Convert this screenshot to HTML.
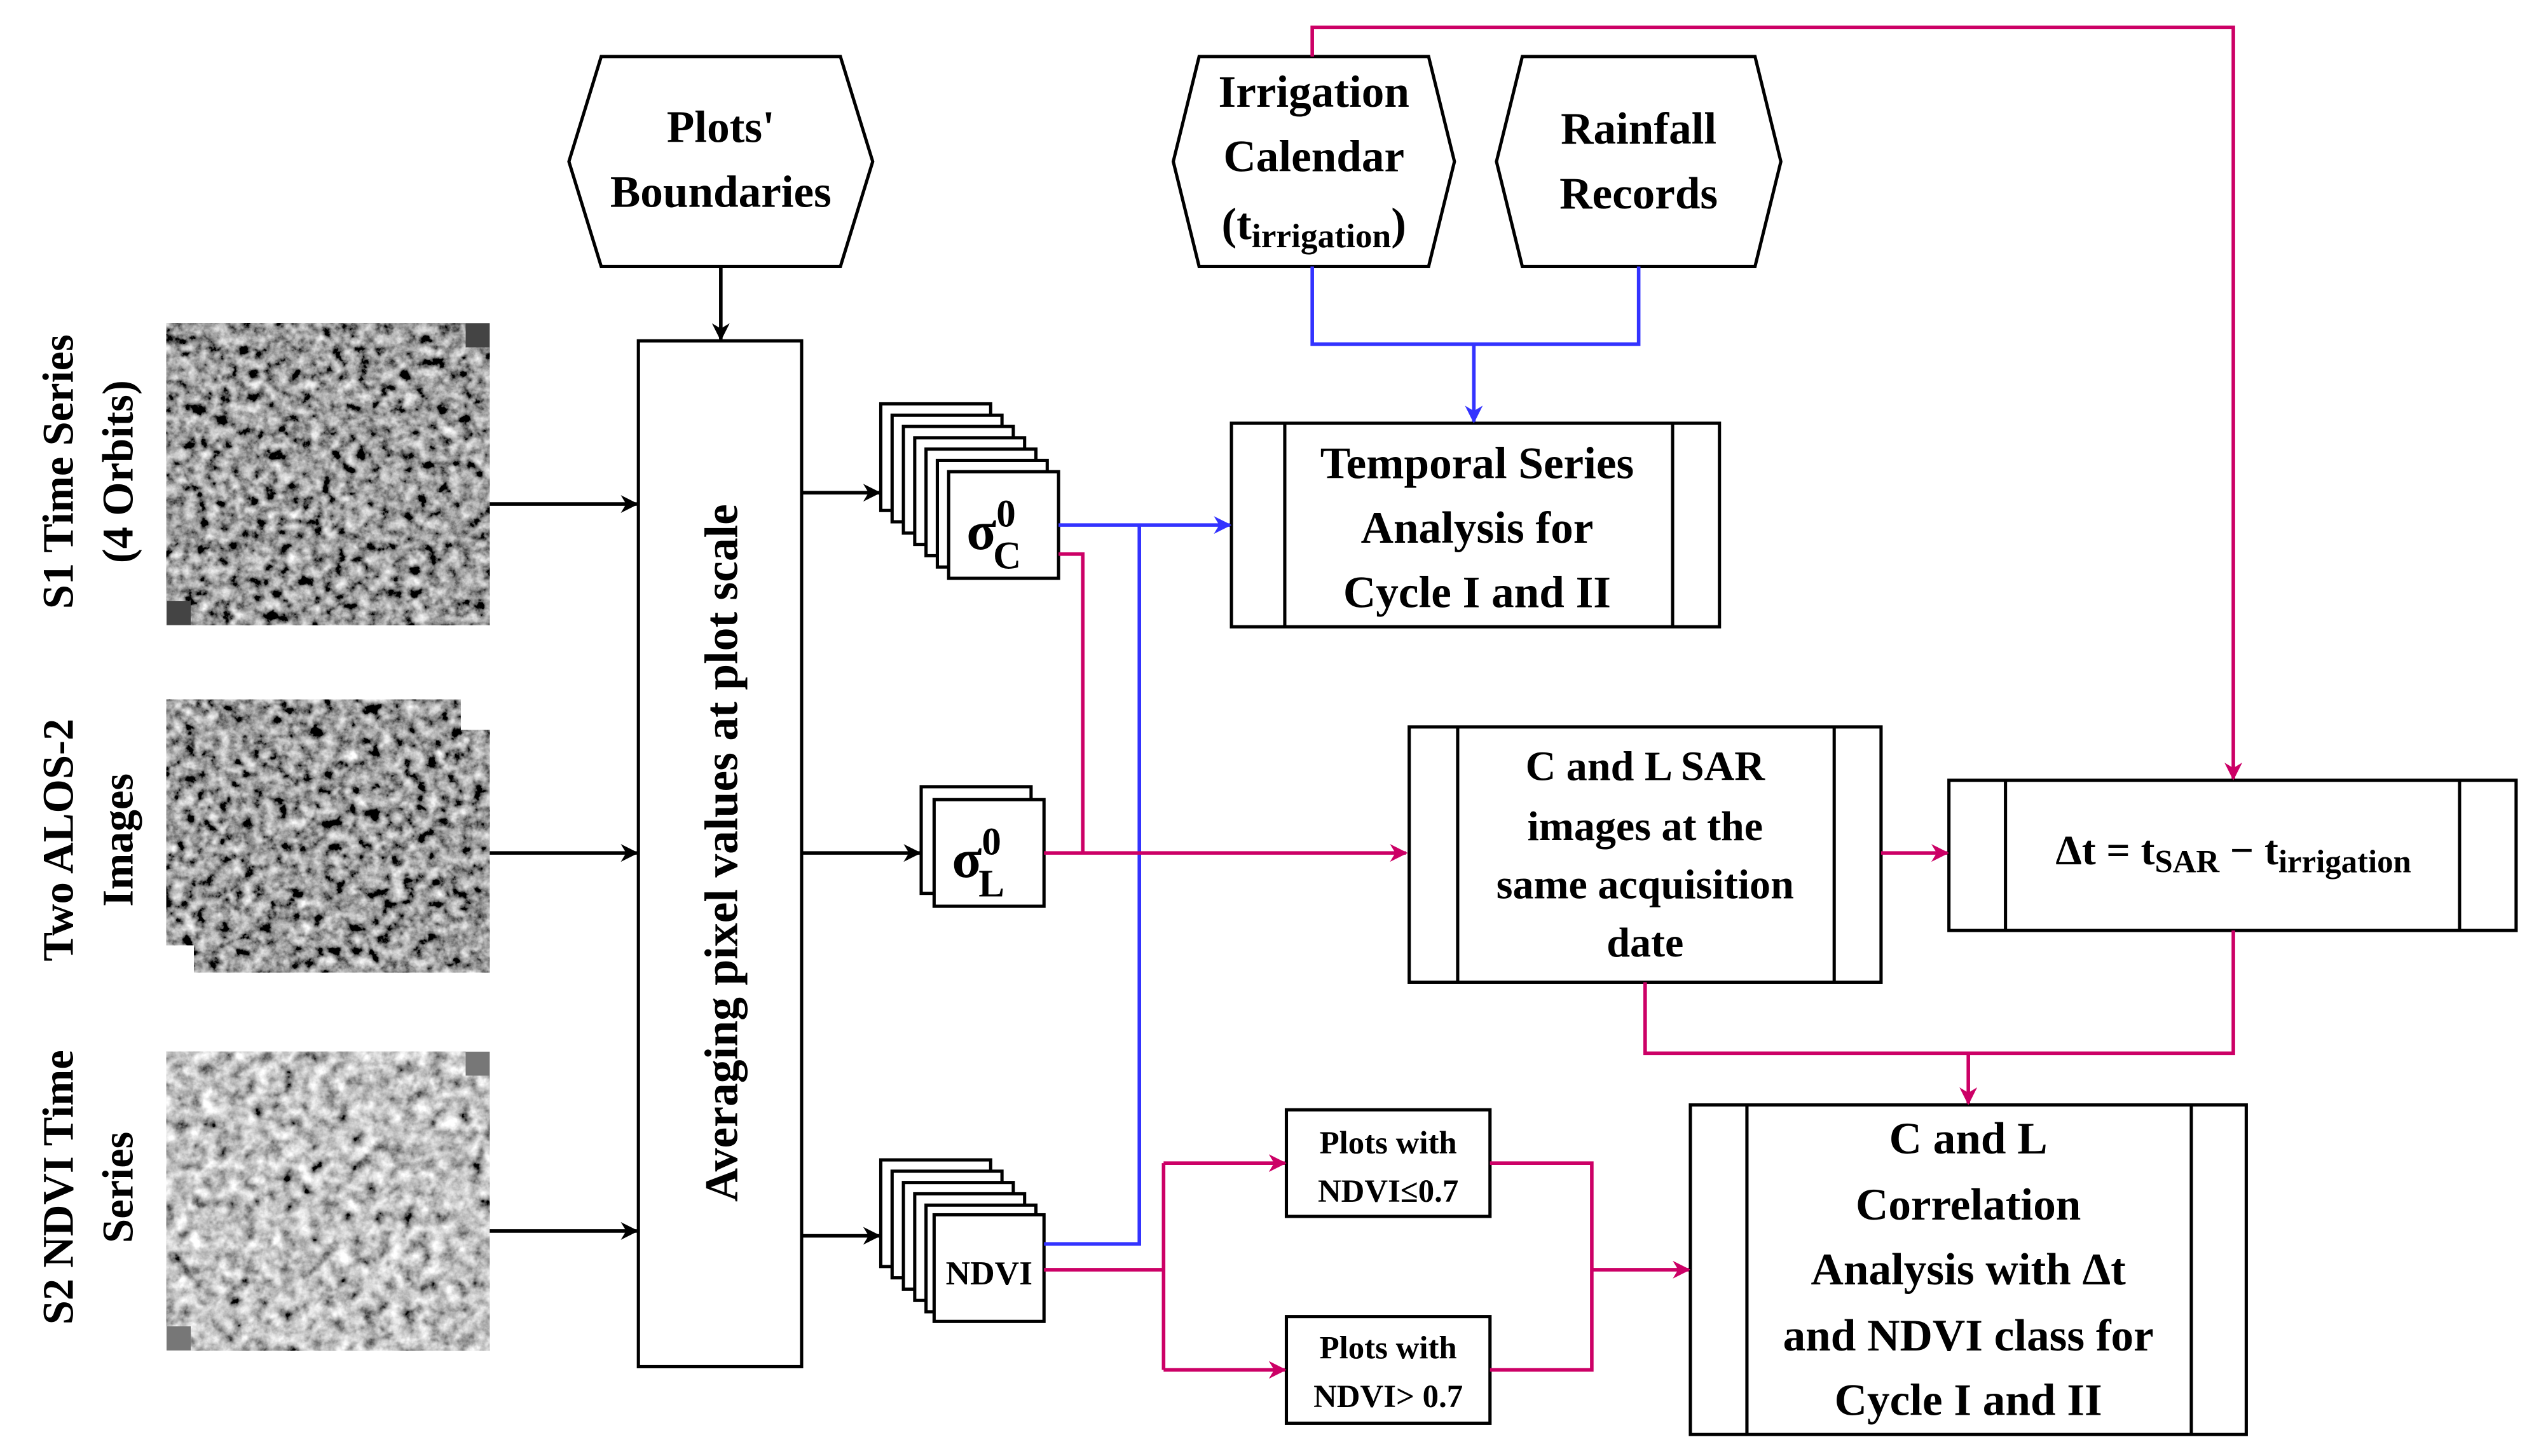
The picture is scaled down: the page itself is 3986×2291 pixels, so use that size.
<!DOCTYPE html>
<html><head><meta charset="utf-8"><style>
html,body{margin:0;padding:0;background:#fff}
svg{display:block}
svg text{font-family:"Liberation Serif","Noto Serif CJK SC","DejaVu Serif",serif;font-weight:bold;fill:#000}
</style></head><body>
<svg width="3986" height="2291" viewBox="0 0 1568 901.3" xmlns="http://www.w3.org/2000/svg">
<defs>
<filter id="tex" x="0" y="0" width="100%" height="100%">
<feTurbulence type="fractalNoise" baseFrequency="0.14" numOctaves="4" seed="4"/>
<feColorMatrix type="matrix" values="0.33 0.33 0.33 0 0 0.33 0.33 0.33 0 0 0.33 0.33 0.33 0 0 0 0 0 0 1"/>
<feComponentTransfer><feFuncR type="linear" slope="2.6" intercept="-0.95"/><feFuncG type="linear" slope="2.6" intercept="-0.95"/><feFuncB type="linear" slope="2.6" intercept="-0.95"/></feComponentTransfer>
</filter>
<filter id="tex2" x="0" y="0" width="100%" height="100%">
<feTurbulence type="fractalNoise" baseFrequency="0.12" numOctaves="4" seed="9"/>
<feColorMatrix type="matrix" values="0.33 0.33 0.33 0 0 0.33 0.33 0.33 0 0 0.33 0.33 0.33 0 0 0 0 0 0 1"/>
<feComponentTransfer><feFuncR type="linear" slope="2.6" intercept="-0.75"/><feFuncG type="linear" slope="2.6" intercept="-0.75"/><feFuncB type="linear" slope="2.6" intercept="-0.75"/></feComponentTransfer>
</filter>
<marker id="ak" viewBox="0 0 10 10" refX="9" refY="5" markerWidth="5" markerHeight="5" orient="auto"><path d="M0,0 L10,5 L0,10 L3,5z" fill="#000"/></marker>
<marker id="ab" viewBox="0 0 10 10" refX="9" refY="5" markerWidth="5" markerHeight="5" orient="auto"><path d="M0,0 L10,5 L0,10 L3,5z" fill="#3333ff"/></marker>
<marker id="ap" viewBox="0 0 10 10" refX="9" refY="5" markerWidth="5" markerHeight="5" orient="auto"><path d="M0,0 L10,5 L0,10 L3,5z" fill="#cc0066"/></marker>
</defs>

<g font-size="27" text-anchor="middle">
<text transform="translate(45,292) rotate(-90)">S1 Time Series</text>
<text transform="translate(82,292) rotate(-90)">(4 Orbits)</text>
<text transform="translate(45,520) rotate(-90)">Two ALOS-2</text>
<text transform="translate(82,520) rotate(-90)">Images</text>
<text transform="translate(45,735) rotate(-90)">S2 NDVI Time</text>
<text transform="translate(82,735) rotate(-90)">Series</text>
</g>

<g>
<rect x="103" y="200" width="200" height="187" fill="#444"/>
<rect x="103" y="200" width="185" height="172" fill="#666" filter="url(#tex)"/>
<rect x="118" y="215" width="185" height="172" fill="#666" filter="url(#tex)"/>
<rect x="103" y="433" width="182" height="152" fill="#777" filter="url(#tex)"/>
<rect x="120" y="452" width="183" height="150" fill="#666" filter="url(#tex)"/>
<rect x="103" y="651" width="200" height="185" fill="#777"/>
<rect x="103" y="651" width="185" height="170" fill="#aaa" filter="url(#tex2)"/>
<rect x="118" y="666" width="185" height="170" fill="#aaa" filter="url(#tex2)"/>
</g>

<g fill="none" stroke="#000" stroke-width="2.2">
<line x1="303" y1="312" x2="394" y2="312" marker-end="url(#ak)"/>
<line x1="303" y1="528" x2="394" y2="528" marker-end="url(#ak)"/>
<line x1="303" y1="762" x2="394" y2="762" marker-end="url(#ak)"/>
<line x1="446" y1="165" x2="446" y2="210" marker-end="url(#ak)"/>
<line x1="496" y1="305" x2="544" y2="305" marker-end="url(#ak)"/>
<line x1="496" y1="528" x2="569" y2="528" marker-end="url(#ak)"/>
<line x1="496" y1="765" x2="544" y2="765" marker-end="url(#ak)"/>
</g>

<g fill="#fff" stroke="#000" stroke-width="2">
<rect x="395" y="211" width="101" height="635"/>
<polygon points="372,35 520,35 540,100 520,165 372,165 352,100"/>
<polygon points="742,35 884,35 900,100 884,165 742,165 726,100"/>
<polygon points="942,35 1086,35 1102,100 1086,165 942,165 926,100"/>
<rect x="545" y="250" width="68" height="66"/>
<rect x="552" y="257" width="68" height="66"/>
<rect x="559" y="264" width="68" height="66"/>
<rect x="566" y="271" width="68" height="66"/>
<rect x="573" y="278" width="68" height="66"/>
<rect x="580" y="285" width="68" height="66"/>
<rect x="587" y="292" width="68" height="66"/>
<rect x="570" y="487" width="68" height="66"/>
<rect x="578" y="495" width="68" height="66"/>
<rect x="545" y="718" width="68" height="66"/>
<rect x="552" y="725" width="68" height="66"/>
<rect x="559" y="732" width="68" height="66"/>
<rect x="566" y="739" width="68" height="66"/>
<rect x="573" y="746" width="68" height="66"/>
<rect x="578" y="752" width="68" height="66"/>
<rect x="762" y="262" width="302" height="126"/>
<rect x="872" y="450" width="292" height="158"/>
<rect x="1206" y="483" width="351" height="93"/>
<rect x="1046" y="684" width="344" height="204"/>
<rect x="796" y="687" width="126" height="66"/>
<rect x="796" y="815" width="126" height="66"/>
</g>
<g stroke="#000" stroke-width="2">
<line x1="795" y1="262" x2="795" y2="388"/><line x1="1035" y1="262" x2="1035" y2="388"/>
<line x1="902" y1="450" x2="902" y2="608"/><line x1="1135" y1="450" x2="1135" y2="608"/>
<line x1="1241" y1="483" x2="1241" y2="576"/><line x1="1522" y1="483" x2="1522" y2="576"/>
<line x1="1081" y1="684" x2="1081" y2="888"/><line x1="1356" y1="684" x2="1356" y2="888"/>
</g>

<g fill="none" stroke="#3333ff" stroke-width="2.2">
<polyline points="655,325 761,325" marker-end="url(#ab)"/>
<polyline points="705,325 705,770 646,770"/>
<polyline points="812,165 812,213 1014,213 1014,165"/>
<line x1="912" y1="213" x2="912" y2="261" marker-end="url(#ab)"/>
</g>
<g fill="none" stroke="#cc0066" stroke-width="2.2">
<polyline points="655,343 670,343 670,528"/>
<line x1="646" y1="528" x2="870" y2="528" marker-end="url(#ap)"/>
<polyline points="812,35 812,17 1382,17 1382,482" marker-end="url(#ap)"/>
<line x1="1164" y1="528" x2="1205" y2="528" marker-end="url(#ap)"/>
<polyline points="1018,608 1018,652 1382,652 1382,576"/>
<line x1="1218" y1="652" x2="1218" y2="683" marker-end="url(#ap)"/>
<polyline points="646,786 720,786"/>
<polyline points="720,720 720,848"/>
<line x1="720" y1="720" x2="795" y2="720" marker-end="url(#ap)"/>
<line x1="720" y1="848" x2="795" y2="848" marker-end="url(#ap)"/>
<polyline points="922,720 985,720 985,848 922,848"/>
<line x1="985" y1="786" x2="1045" y2="786" marker-end="url(#ap)"/>
</g>

<g font-size="28" text-anchor="middle">
<text transform="translate(456,528) rotate(-90)" font-size="29">Averaging pixel values at plot scale</text>
<text x="446" y="88">Plots'</text>
<text x="446" y="128">Boundaries</text>
<text x="813" y="66">Irrigation</text>
<text x="813" y="106">Calendar</text>
<text x="813" y="148">(t<tspan font-size="21" dy="5">irrigation</tspan><tspan dy="-5">)</tspan></text>
<text x="1014" y="89">Rainfall</text>
<text x="1014" y="129">Records</text>
<text x="914" y="296">Temporal Series</text>
<text x="914" y="336">Analysis for</text>
<text x="914" y="376">Cycle I and II</text>
<g font-size="26">
<text x="1018" y="483">C and L SAR</text>
<text x="1018" y="520">images at the</text>
<text x="1018" y="556">same acquisition</text>
<text x="1018" y="592">date</text>
</g>
<text x="1382" y="535" font-size="26">Δt = t<tspan font-size="20" dy="5">SAR</tspan><tspan dy="-5"> − t</tspan><tspan font-size="20" dy="5">irrigation</tspan></text>
<text x="1218" y="714">C and L</text>
<text x="1218" y="755">Correlation</text>
<text x="1218" y="795">Analysis with Δt</text>
<text x="1218" y="836">and NDVI class for</text>
<text x="1218" y="876">Cycle I and II</text>
<g font-size="20">
<text x="859" y="714">Plots with</text>
<text x="859" y="744">NDVI≤0.7</text>
<text x="859" y="841">Plots with</text>
<text x="859" y="871">NDVI&gt; 0.7</text>
</g>
<text x="612" y="795" font-size="21">NDVI</text>
</g>
<text x="598" y="340" font-size="34">σ<tspan font-size="24" dy="-14">0</tspan><tspan font-size="24" dx="-14" dy="26">C</tspan></text>
<text x="589" y="543" font-size="34">σ<tspan font-size="24" dy="-14">0</tspan><tspan font-size="24" dx="-14" dy="26">L</tspan></text>
</svg>
</body></html>
